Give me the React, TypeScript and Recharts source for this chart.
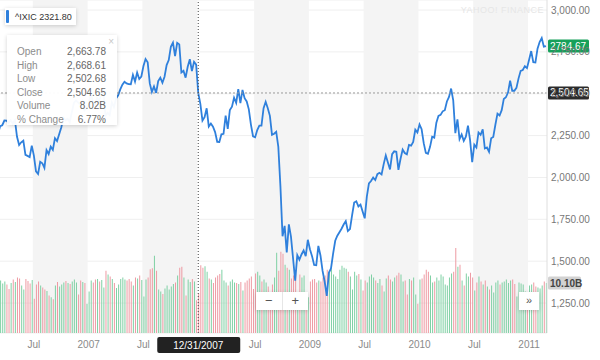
import {
    ComposedChart,
    Line,
    Bar,
    Cell,
    XAxis,
    YAxis,
    CartesianGrid,
    ReferenceArea,
    ReferenceLine
} from 'recharts';

const FONT = '"Liberation Sans", Arial, Helvetica, sans-serif';

// weekly closes of ^IXIC, one value per week starting 2006-03-06
const closes2006 = [2262, 2306, 2312, 2340, 2339, 2326, 2342, 2322, 2342, 2243, 2194, 2210, 2220, 2135, 2129, 2122, 2190, 2131, 2037, 2021, 2094, 2085, 2057, 2163, 2140, 2184, 2165, 2235, 2218, 2258, 2299, 2357, 2342, 2350, 2330, 2389, 2445, 2460, 2448, 2437, 2457, 2401, 2415];
const closes2007 = [2434, 2502, 2451, 2435, 2475, 2459, 2496, 2515, 2368, 2387, 2372, 2448, 2421, 2471, 2491, 2526, 2554, 2572, 2562, 2558, 2557, 2613, 2573, 2626, 2588, 2603, 2666, 2707, 2688, 2562, 2511, 2544, 2505, 2576, 2596, 2566, 2602, 2671, 2701, 2780, 2805, 2725, 2804, 2795, 2627, 2637, 2596, 2661, 2706, 2635, 2691, 2674, 2504.65];
const closes2008 = [2440, 2340, 2360, 2413, 2304, 2321.8, 2303, 2271, 2213, 2212, 2258, 2261, 2370, 2290, 2403, 2423, 2476, 2445, 2528, 2444, 2523, 2474, 2454, 2407, 2316, 2246, 2240, 2283, 2310, 2310, 2414, 2452, 2414, 2368, 2255, 2261, 2273, 2183, 1947, 1649, 1711, 1552, 1720, 1647, 1516, 1384, 1536, 1509, 1540, 1564, 1530, 1628];
const closes2009 = [1571, 1530, 1477, 1476, 1591, 1534, 1442, 1377, 1293, 1431, 1457, 1545, 1622, 1652, 1673, 1694, 1719, 1739, 1680, 1692, 1774, 1850, 1858, 1827, 1838, 1797, 1756, 1886, 1965, 1979, 2000, 1985, 2020, 2028, 2018, 2080, 2132, 2090, 2048, 2139, 2156, 2154, 2045, 2112, 2167, 2146, 2138, 2194, 2190, 2212, 2285, 2269];
const closes2010 = [2317, 2288, 2205, 2147, 2141, 2183, 2243, 2238, 2327, 2368, 2374, 2395, 2402, 2454, 2481, 2531, 2461, 2265, 2347, 2229, 2257, 2219, 2244, 2309, 2223, 2091, 2196, 2179, 2269, 2255, 2288, 2173, 2179, 2153, 2234, 2242, 2315, 2381, 2370, 2402, 2469, 2479, 2507, 2578, 2518, 2518, 2535, 2592, 2637, 2642, 2665, 2653];
const closes2011 = [2703, 2755, 2689, 2687, 2769, 2809, 2833, 2781, 2784.67];

// weekly volume, billions
const vol2006 = [10.2, 10.6, 10.0, 10.4, 9.8, 8.9, 10.1, 10.8, 10.3, 11.2, 11.0, 9.6, 8.8, 10.9, 10.5, 10.0, 10.7, 6.9, 9.8, 10.4, 9.6, 9.2, 8.8, 8.5, 7.6, 7.2, 6.8, 9.6, 10.3, 9.4, 9.8, 10.2, 10.5, 10.1, 9.9, 10.4, 10.8, 10.2, 7.8, 10.6, 10.3, 10.1, 5.9];
const vol2007 = [8.4, 10.6, 10.2, 10.8, 10.9, 10.4, 10.7, 9.2, 12.6, 11.8, 11.4, 10.9, 10.1, 9.1, 9.8, 10.9, 11.2, 10.8, 10.6, 10.9, 10.4, 9.6, 11.2, 11.0, 11.6, 10.7, 7.4, 10.8, 11.2, 12.9, 13.1, 15.6, 12.6, 8.8, 8.4, 7.9, 9.0, 9.6, 8.8, 9.4, 9.9, 10.2, 11.6, 13.2, 13.4, 11.2, 7.6, 10.8, 10.3, 10.9, 10.4, 6.6, 8.02];
const vol2008 = [13.7, 13.2, 13.5, 12.4, 11.0, 10.8, 10.1, 11.2, 11.6, 11.9, 12.8, 10.6, 10.2, 9.6, 10.4, 10.8, 10.2, 10.1, 9.9, 10.3, 8.6, 10.2, 10.6, 11.0, 11.4, 8.9, 12.0, 12.4, 11.6, 10.4, 10.8, 10.2, 9.4, 8.2, 9.8, 11.2, 16.2, 12.6, 16.4, 16.0, 13.8, 13.2, 12.8, 11.0, 11.6, 12.0, 7.4, 11.8, 11.2, 11.6, 6.8, 7.2];
const vol2009 = [10.4, 10.8, 10.9, 10.2, 10.6, 10.4, 11.2, 11.6, 12.8, 12.6, 12.9, 11.8, 11.4, 10.9, 12.8, 13.6, 13.2, 13.0, 12.4, 11.4, 8.8, 12.4, 11.6, 11.9, 10.8, 8.6, 10.6, 10.2, 11.4, 11.8, 11.2, 10.6, 10.1, 10.9, 9.6, 8.4, 11.0, 11.6, 10.8, 10.4, 11.2, 11.6, 12.2, 11.8, 10.4, 10.6, 7.8, 10.9, 10.6, 11.2, 7.8, 5.9];
const vol2010 = [10.8, 11.0, 11.8, 12.8, 12.4, 11.6, 10.2, 10.4, 11.2, 10.6, 11.8, 11.4, 9.8, 9.6, 11.2, 12.0, 12.4, 17.2, 13.4, 13.8, 10.6, 9.6, 12.0, 11.4, 12.2, 11.2, 8.6, 10.2, 11.4, 10.4, 9.8, 10.6, 9.4, 8.8, 9.6, 8.2, 10.2, 10.6, 9.8, 10.2, 10.4, 10.8, 10.1, 10.6, 10.8, 9.9, 7.4, 10.2, 10.0, 9.8, 8.4, 6.2];
const vol2011 = [9.6, 9.8, 10.2, 9.4, 9.2, 9.0, 9.6, 10.4, 10.1];

const closes = [...closes2006, ...closes2007, ...closes2008, ...closes2009, ...closes2010, ...closes2011];
const volumes = [...vol2006, ...vol2007, ...vol2008, ...vol2009, ...vol2010, ...vol2011];

// x-axis ticks (2008 sits under the crosshair label)
const xTicks = ['2006-07-03', '2007-01-01', '2007-07-02', '2008-07-07', '2009-01-05', '2009-07-06', '2010-01-04', '2010-07-05', '2011-01-03'];
const xTickLabels = ['Jul', '2007', 'Jul', 'Jul', '2009', 'Jul', '2010', 'Jul', '2011'];
const priceTicks = [1250, 1500, 1750, 2000, 2250, 2500, 2750, 3000];

// shaded second halves of each year
const shadedBands = [
    ['2006-07-03', '2006-12-25'],
    ['2007-07-02', '2007-12-24'],
    ['2008-07-07', '2008-12-29'],
    ['2009-07-06', '2009-12-28'],
    ['2010-07-05', '2010-12-27']
];

const hoverDate = '2007-12-31';
const hoverLabel = '12/31/2007';
const hoverClose = 2504.65;
const lastClose = 2784.67;
const lastVolume = 10.1;

const tooltipRows = [
    ['Open', '2,663.78'],
    ['High', '2,668.61'],
    ['Low', '2,502.68'],
    ['Close', '2,504.65'],
    ['Volume', '8.02B'],
    ['% Change', '6.77%']
];

const weekDates = closes.map((_, i) => new Date(Date.UTC(2006, 2, 6 + i * 7)).toISOString().slice(0, 10));

const data = closes.map((close, i) => ({
    date: weekDates[i],
    close,
    volume: volumes[i],
    up: i > 0 && close > closes[i - 1]
}));

const fmtPrice = (v: number) => v.toLocaleString('en-US', { minimumFractionDigits: 2, maximumFractionDigits: 2 });

const AxisBadge = (props: any) => {
    const { viewBox, text, bg, color, width, bold } = props;
    if (!viewBox) return null;
    const x = viewBox.x + viewBox.width;
    const y = viewBox.y;
    return (
        <g>
            <rect x={x + 1} y={y - 6.5} width={width} height={13} rx={1.5} fill={bg} />
            <text x={x + 3} y={y} dy="0.35em" fontSize={10} fill={color} fontFamily={FONT} fontWeight={bold ? 'bold' : 'normal'}>
                {text}
            </text>
        </g>
    );
};

const DateBadge = (props: any) => {
    const { viewBox } = props;
    if (!viewBox) return null;
    const x = viewBox.x;
    const y = viewBox.y + viewBox.height;
    return (
        <g>
            <rect x={x - 41} y={y + 4} width={83} height={16} rx={2} fill="#222" />
            <text x={x} y={y + 12} dy="0.35em" textAnchor="middle" fontSize={10} fill="#fff" fontFamily={FONT}>
                {hoverLabel}
            </text>
        </g>
    );
};

const boxShadow = '0 1px 4px rgba(0,0,0,0.18)';

export default function App() {
    return (
        <div style={{ position: 'absolute', left: 0, top: 0, width: 600, height: 360, overflow: 'hidden', background: '#fff', fontFamily: FONT }}>
            <div style={{ position: 'absolute', left: -3, top: 0 }}>
                <ComposedChart width={603} height={360} data={data} margin={{ top: 0, right: 0, bottom: 0, left: 0 }}>
                    {shadedBands.map(([a, b]) => (
                        <ReferenceArea key={a} x1={a} x2={b} yAxisId="price" fill="#f4f4f4" fillOpacity={1} stroke="none" />
                    ))}
                    <CartesianGrid yAxisId="price" vertical={false} stroke="#efefef" />
                    <XAxis
                        dataKey="date"
                        ticks={xTicks}
                        interval={0}
                        tickFormatter={(d: string) => xTickLabels[xTicks.indexOf(d)] ?? ''}
                        axisLine={false}
                        tickLine={false}
                        height={27}
                        tick={{ fill: '#8a8a8a', fontSize: 10, fontFamily: FONT }}
                    />
                    <YAxis
                        yAxisId="price"
                        orientation="right"
                        width={53}
                        domain={[1071, 3060]}
                        ticks={priceTicks}
                        allowDataOverflow
                        axisLine={{ stroke: '#dedede' }}
                        tickLine={false}
                        tickSize={0}
                        tickMargin={4}
                        tickFormatter={fmtPrice}
                        tick={{ fill: '#777', fontSize: 10, fontFamily: FONT }}
                    />
                    <YAxis yAxisId="vol" hide domain={[0, 67.3]} />
                    <Bar yAxisId="vol" dataKey="volume" barSize={1} isAnimationActive={false}>
                        {data.map((d) => (
                            <Cell key={d.date} fill={d.up ? '#7fd0a4' : '#ee9aa3'} />
                        ))}
                    </Bar>
                    <Line
                        yAxisId="price"
                        dataKey="close"
                        type="linear"
                        stroke="#2f80dc"
                        strokeWidth={1.8}
                        dot={false}
                        activeDot={false}
                        isAnimationActive={false}
                    />
                    <ReferenceLine
                        yAxisId="price"
                        y={hoverClose}
                        stroke="#9a9a9a"
                        strokeDasharray="2 2"
                        label={<AxisBadge text={fmtPrice(hoverClose)} bg="#2b2b2b" color="#fff" width={41} />}
                    />
                    <ReferenceLine
                        yAxisId="price"
                        y={lastClose}
                        stroke="none"
                        label={<AxisBadge text={String(lastClose)} bg="#16a05a" color="#fff" width={41} />}
                    />
                    <ReferenceLine
                        yAxisId="vol"
                        y={lastVolume}
                        stroke="none"
                        label={<AxisBadge text={lastVolume.toFixed(2) + 'B'} bg="#d2d2d2" color="#444" width={33} bold />}
                    />
                    <ReferenceLine
                        yAxisId="price"
                        x={hoverDate}
                        stroke="#444"
                        strokeDasharray="1 2"
                        label={<DateBadge />}
                    />
                </ComposedChart>
            </div>

            <div style={{ position: 'absolute', right: 56, top: 5, fontSize: 9, color: '#e6e6e6', letterSpacing: 0.5 }}>
                YAHOO! FINANCE
            </div>

            <div style={{ position: 'absolute', left: 5, top: 8, width: 71, height: 17, background: '#fff', boxShadow, display: 'flex', alignItems: 'center' }}>
                <div style={{ width: 3, height: 13, background: '#2f80dc', marginLeft: 1, marginRight: 6, borderRadius: 1 }} />
                <span style={{ fontSize: 9, color: '#333' }}>^IXIC 2321.80</span>
            </div>

            <div style={{ position: 'absolute', left: 7, top: 35, width: 110, height: 90, background: 'rgba(255,255,255,0.96)', boxShadow, boxSizing: 'border-box', padding: '10px 11px 0 10px' }}>
                <div style={{ position: 'absolute', right: 3, top: 1, fontSize: 10, color: '#c8c8c8' }}>×</div>
                {tooltipRows.map(([k, v]) => (
                    <div key={k} style={{ display: 'flex', justifyContent: 'space-between', fontSize: 10, lineHeight: '13.5px' }}>
                        <span style={{ color: '#8c8c8c' }}>{k}</span>
                        <span style={{ color: '#666' }}>{v}</span>
                    </div>
                ))}
            </div>

            <div style={{ position: 'absolute', left: 256, top: 292, width: 52, height: 18, background: '#fff', boxShadow, display: 'flex', fontSize: 13, color: '#555' }}>
                <div style={{ flex: 1, textAlign: 'center', lineHeight: '18px', borderRight: '1px solid #e6e6e6' }}>−</div>
                <div style={{ flex: 1, textAlign: 'center', lineHeight: '18px' }}>+</div>
            </div>

            <div style={{ position: 'absolute', left: 519, top: 292, width: 20, height: 18, background: '#fff', boxShadow, fontSize: 11, color: '#555', textAlign: 'center', lineHeight: '17px' }}>
                »
            </div>
        </div>
    );
}
